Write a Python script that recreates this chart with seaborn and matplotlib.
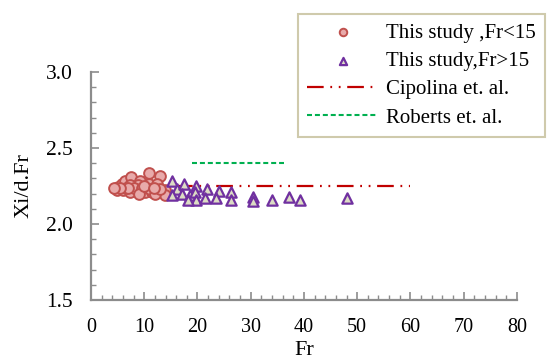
import matplotlib
matplotlib.use("Agg")
import matplotlib.pyplot as plt
import seaborn as sns
import numpy as np
import pandas as pd
from matplotlib.ticker import MultipleLocator

# ---- data ----
fr_low = [5.1, 5.8, 6.4, 7.6, 9.2, 10.8, 13.0, 10.8, 12.3, 8.9, 7.3, 13.9, 4.8, 6.1,
          7.3, 8.9, 10.1, 11.4, 12.6, 13.9, 6.5, 8.0, 9.5, 11.0, 12.0, 9.0, 7.0, 13.0,
          10.0, 5.5, 11.8, 4.4]
xi_low = [2.245, 2.263, 2.285, 2.307, 2.285, 2.334, 2.316, 2.263, 2.263, 2.257, 2.257,
          2.224, 2.224, 2.224, 2.213, 2.224, 2.213, 2.213, 2.213, 2.19, 2.24, 2.24, 2.24,
          2.23, 2.20, 2.20, 2.235, 2.23, 2.25, 2.24, 2.24, 2.235]

fr_high = [15.3, 16.1, 15.2, 17.5, 17.0, 18.6, 19.7, 19.5, 19.8, 21.8, 21.4, 24.1, 23.5,
           26.2, 26.2, 30.4, 30.4, 34.0, 37.2, 39.2, 48.1, 18.3]
xi_high = [2.28, 2.23, 2.19, 2.26, 2.20, 2.19, 2.25, 2.21, 2.16, 2.23, 2.17, 2.22, 2.17,
           2.21, 2.16, 2.18, 2.15, 2.16, 2.18, 2.16, 2.17, 2.16]

cip_fr = [16.0, 60.0]
cip_xi = [2.25, 2.25]
rob_fr = [19.0, 36.2]
rob_xi = [2.40, 2.40]

x_ticks = [0, 10, 20, 30, 40, 50, 60, 70, 80]
y_ticks = [1.5, 2.0, 2.5, 3.0]

# ---- style ----
sns.set_style("white")
plt.rcParams['font.family'] = ['Liberation Serif', 'DejaVu Serif']
plt.rcParams['text.color'] = 'black'
plt.rcParams['axes.labelcolor'] = 'black'
plt.rcParams['xtick.color'] = 'black'
plt.rcParams['ytick.color'] = 'black'

fig = plt.figure(figsize=(5.47, 3.61), dpi=100)
ax = fig.add_axes([0.1664, 0.169, 0.7786, 0.6316])

sns.lineplot(x=cip_fr, y=cip_xi, ax=ax, color="#c00000", linewidth=1.6,
             linestyle=(0, (7.5, 3, 0.8, 3, 0.8, 3)), label="Cipolina et. al.")
sns.lineplot(x=rob_fr, y=rob_xi, ax=ax, color="#00b050", linewidth=1.5,
             linestyle=(0, (2.4, 1.4)), label="Roberts et. al.")

sns.scatterplot(x=fr_low, y=xi_low, ax=ax, marker="o", s=60,
                facecolor="#e8aaaa", edgecolor="#c0504d", linewidth=1.4,
                label="This study ,Fr<15", zorder=3)
sns.scatterplot(x=fr_high, y=xi_high, ax=ax, marker="^", s=55,
                facecolor="#dcdcc4", edgecolor="#7030a0", linewidth=1.6,
                label="This study,Fr>15", zorder=4)

ax.set_xlim(0, 80)
ax.set_ylim(1.5, 3.0)
ax.set_xticks(x_ticks)
ax.set_yticks(y_ticks)
ax.set_yticklabels([f"{v:.1f}" for v in y_ticks])
ax.xaxis.set_minor_locator(MultipleLocator(2))
ax.yaxis.set_minor_locator(MultipleLocator(0.1))

for s in ["top", "right"]:
    ax.spines[s].set_visible(False)
for s in ["left", "bottom"]:
    ax.spines[s].set_color("#8c8c8c")
    ax.spines[s].set_linewidth(1.6)

ax.tick_params(which="major", direction="in", length=6, width=1.2, color="#8c8c8c",
               labelcolor="black", left=True, bottom=True)
ax.tick_params(which="minor", direction="in", length=3.5, width=1.0, color="#8c8c8c",
               left=True, bottom=True)
ax.tick_params(axis="x", which="major", labelsize=14.5, pad=13)
ax.tick_params(axis="y", which="major", labelsize=15.5, pad=13)

ax.set_xlabel("Fr", fontsize=16, labelpad=3)
ax.set_ylabel("Xi/d.Fr", fontsize=16, labelpad=9)

h, l = ax.get_legend_handles_labels()
order = [l.index("This study ,Fr<15"), l.index("This study,Fr>15"),
         l.index("Cipolina et. al."), l.index("Roberts et. al.")]
if ax.get_legend():
    ax.get_legend().remove()
leg = fig.legend([h[i] for i in order], [l[i] for i in order],
                 loc="upper left", bbox_to_anchor=(0.545, 0.962),
                 frameon=True, fancybox=False, fontsize=15, markerscale=0.7,
                 handlelength=3.4, handletextpad=0.35, labelspacing=0.42,
                 borderpad=0.45, borderaxespad=0)
leg.get_frame().set_edgecolor("#c4bd97")
leg.get_frame().set_linewidth(1.5)

fig.savefig("out.png", dpi=100)
